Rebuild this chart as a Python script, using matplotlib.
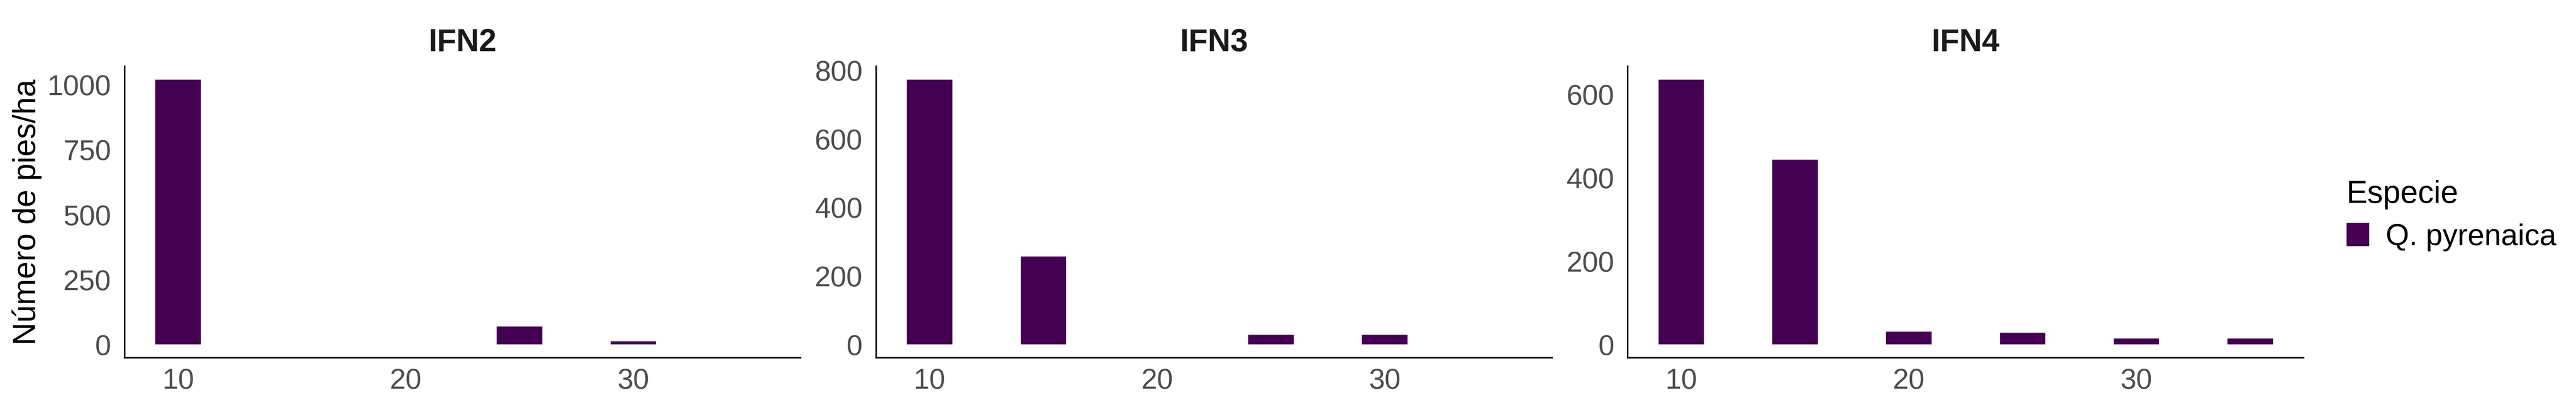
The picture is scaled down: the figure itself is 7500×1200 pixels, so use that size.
import matplotlib
matplotlib.use("Agg")
import matplotlib.pyplot as plt

plt.rcParams['font.family'] = ['Liberation Sans', 'DejaVu Sans']

# diameter classes (cm) and trees per hectare for each inventory
clases = [10, 15, 20, 25, 30, 35]
ifn2 = [1020, 0, 0, 69, 12, 0]
ifn3 = [773, 257, 0, 28, 28, 0]
ifn4 = [635, 443, 31, 28, 14, 14]

paneles = ["IFN2", "IFN3", "IFN4"]
valores = [ifn2, ifn3, ifn4]
yticks = [[0, 250, 500, 750, 1000], [0, 200, 400, 600, 800], [0, 200, 400, 600]]

especie = "Q. pyrenaica"
color = "#440154"

fig = plt.figure(figsize=(25, 4), dpi=300)
lefts = [0.0484, 0.3401, 0.6319]
ancho = 0.2624
bottom = 0.1317
alto = 0.7075

barras = None
for i in range(3):
    ax = fig.add_axes([lefts[i], bottom, ancho, alto])
    b = ax.bar(clases, valores[i], width=2, color=color, linewidth=0, label=especie)
    if barras is None:
        barras = b
    ymax = max(valores[i])
    ax.set_ylim(-0.05 * ymax, 1.05 * ymax)
    ax.set_xlim(9 - 0.05 * 27, 36 + 0.05 * 27)
    ax.set_xticks([10, 20, 30])
    ax.set_yticks(yticks[i])
    ax.tick_params(length=0, labelsize=20, labelcolor="#4D4D4D")
    ax.tick_params(axis='x', pad=7)
    ax.tick_params(axis='y', pad=9.5)
    for s in ['top', 'right']:
        ax.spines[s].set_visible(False)
    for s in ['left', 'bottom']:
        ax.spines[s].set_linewidth(1.05)
        ax.spines[s].set_color("black")
    ax.set_title(paneles[i], fontsize=22, fontweight='bold', color="#1A1A1A", pad=10.6)

fig.text(78 / 7500, 0.4854, "Número de pies/ha", rotation=90, ha='center', va='center',
         fontsize=22, color="black")

leg = fig.legend(handles=[barras], labels=[especie], title="Especie", loc='upper left',
                 bbox_to_anchor=(0.9109, 0.5635), frameon=False, borderpad=0,
                 fontsize=21, title_fontsize=22, handlelength=0.754, handleheight=0.82,
                 handletextpad=0.55, alignment='left', borderaxespad=0, labelspacing=0.45)

fig.savefig("out.png", dpi=300, facecolor="white")
